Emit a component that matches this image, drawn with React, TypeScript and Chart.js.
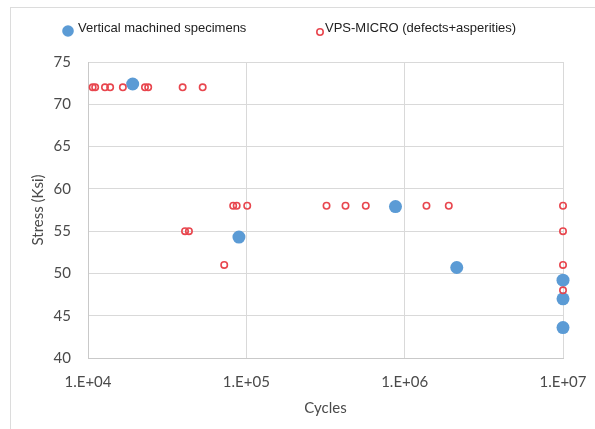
import React, { useEffect, useRef } from "react";
import { Chart, registerables } from "chart.js";

Chart.register(...registerables);

// ---- data ----
const machinedLabel = "Vertical machined specimens";
const machinedCycles = [19150, 89800, 875000, 2133000, 10000000, 10000000, 10000000];
const machinedStress = [72.4, 54.3, 57.9, 50.7, 49.2, 47.0, 43.6];

const vpsLabel = "VPS-MICRO (defects+asperities)";
const vpsCycles = [
  10700, 11100, 12800, 13800, 16600, 22900, 24000, 39600, 53000,
  82600, 86900, 101300, 321000, 423000, 568000, 1373000, 1899000, 10000000,
  41000, 43400, 10000000,
  72500, 10000000,
  10000000,
];
const vpsStress = [
  72, 72, 72, 72, 72, 72, 72, 72, 72,
  58, 58, 58, 58, 58, 58, 58, 58, 58,
  55, 55, 55,
  51, 51,
  48,
];

const xTickValues = [1e4, 1e5, 1e6, 1e7];
const xTickLabels = ["1.E+04", "1.E+05", "1.E+06", "1.E+07"];
const yTickValues = [40, 45, 50, 55, 60, 65, 70, 75];

const xTitle = "Cycles";
const yTitle = "Stress (Ksi)";

// ---- styles ----
const BLUE = "#5b9bd5";
const RED = "#e8464e";
const GRID = "#d9d9d9";
const AXIS = "#c9c9c9";
const TICK_COLOR = "#4a4a4a";
const TICK_FONT = { family: "Lato", size: 15 };

const framePlugin = {
  id: "frame",
  beforeDraw(chart: any) {
    const ctx = chart.ctx;
    ctx.save();
    ctx.fillStyle = "#ffffff";
    ctx.fillRect(0, 0, chart.width, chart.height);
    ctx.strokeStyle = "#dcdcdc";
    ctx.lineWidth = 1;
    ctx.strokeRect(10.5, 7.5, chart.width + 20, chart.height + 20);
    ctx.restore();
  },
};

const legendPlugin = {
  id: "customLegend",
  afterDraw(chart: any) {
    const ctx = chart.ctx;
    const ds = chart.data.datasets;
    const items = [
      { d: ds[1], cx: 68, cy: 31, r: 5.8, tx: 78 },
      { d: ds[0], cx: 320, cy: 32, r: 3.2, tx: 325 },
    ];
    ctx.save();
    ctx.font = "13px 'Liberation Sans', Arial, sans-serif";
    ctx.textBaseline = "alphabetic";
    ctx.textAlign = "left";
    for (const it of items) {
      ctx.beginPath();
      ctx.arc(it.cx, it.cy, it.r, 0, Math.PI * 2);
      if (it.d.borderWidth > 0) {
        ctx.lineWidth = it.d.borderWidth;
        ctx.strokeStyle = it.d.borderColor;
        ctx.stroke();
      } else {
        ctx.fillStyle = it.d.backgroundColor;
        ctx.fill();
      }
      ctx.fillStyle = "#222222";
      ctx.fillText(it.d.label, it.tx, 31.5);
    }
    ctx.restore();
  },
};

export default function App() {
  const ref = useRef<HTMLCanvasElement | null>(null);

  useEffect(() => {
    if (!ref.current) return;
    const chart = new Chart(ref.current, {
      type: "scatter",
      data: {
        datasets: [
          {
            label: vpsLabel,
            data: vpsCycles.map((x, i) => ({ x, y: vpsStress[i] })),
            pointRadius: 3.2,
            pointHoverRadius: 3.2,
            backgroundColor: "rgba(0,0,0,0)",
            borderColor: RED,
            borderWidth: 1.6,
            order: 0,
            clip: false,
          },
          {
            label: machinedLabel,
            data: machinedCycles.map((x, i) => ({ x, y: machinedStress[i] })),
            pointRadius: 6.5,
            pointHoverRadius: 6.5,
            backgroundColor: BLUE,
            borderColor: BLUE,
            borderWidth: 0,
            order: 1,
            clip: false,
          },
        ],
      },
      options: {
        responsive: false,
        animation: false,
        devicePixelRatio: 1,
        layout: { padding: { top: 62, right: 32, left: 0, bottom: 0 } },
        plugins: {
          legend: { display: false },
          tooltip: { enabled: false },
        },
        scales: {
          x: {
            type: "logarithmic",
            min: xTickValues[0],
            max: xTickValues[xTickValues.length - 1],
            afterBuildTicks: (s: any) => {
              s.ticks = xTickValues.map((v) => ({ value: v }));
            },
            afterFit: (s: any) => {
              s.height = 71;
              s.paddingLeft = 0;
              s.paddingRight = 0;
            },
            ticks: {
              autoSkip: false,
              maxRotation: 0,
              padding: 15,
              color: TICK_COLOR,
              font: TICK_FONT,
              callback: (v: any) => {
                const i = xTickValues.indexOf(Number(v));
                return i >= 0 ? xTickLabels[i] : "";
              },
            },
            grid: { color: GRID, lineWidth: 1, drawTicks: false },
            border: { color: AXIS, width: 1 },
            title: {
              display: true,
              text: xTitle,
              color: TICK_COLOR,
              font: { family: "Lato", size: 15 },
              padding: { top: 0, bottom: 12 },
            },
          },
          y: {
            type: "linear",
            min: yTickValues[0],
            max: yTickValues[yTickValues.length - 1],
            afterBuildTicks: (s: any) => {
              s.ticks = yTickValues.map((v) => ({ value: v }));
            },
            afterFit: (s: any) => {
              s.width = 88;
              s.paddingTop = 0;
              s.paddingBottom = 0;
            },
            ticks: {
              padding: 17,
              color: TICK_COLOR,
              font: TICK_FONT,
            },
            grid: { color: GRID, lineWidth: 1, drawTicks: false },
            border: { color: AXIS, width: 1 },
            title: {
              display: true,
              text: yTitle,
              color: TICK_COLOR,
              font: { family: "Lato", size: 15 },
              padding: { top: 29, bottom: 0 },
            },
          },
        },
      },
      plugins: [framePlugin, legendPlugin],
    });
    return () => chart.destroy();
  }, []);

  return (
    <div style={{ position: "fixed", left: 0, top: 0, width: 595, height: 429 }}>
      <canvas ref={ref} width={595} height={429} style={{ width: 595, height: 429, display: "block" }} />
    </div>
  );
}
